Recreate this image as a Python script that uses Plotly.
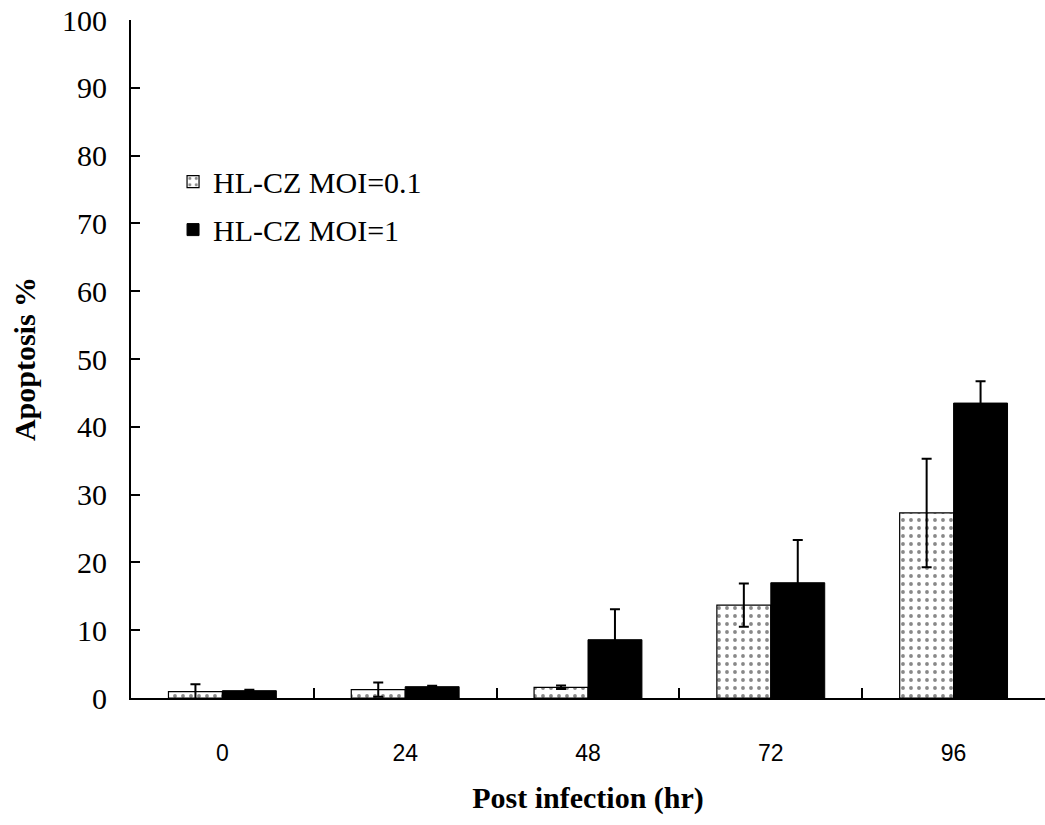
import plotly.graph_objects as go

categories = ["0", "24", "48", "72", "96"]
moi01_values = [0.93, 1.23, 1.58, 13.7, 27.3]
moi01_errors = [1.1, 1.05, 0.25, 3.2, 8.0]
moi1_values = [1.08, 1.67, 8.6, 17.0, 43.5]
moi1_errors = [0.15, 0.15, 4.5, 6.3, 3.2]
series_names = ["HL-CZ MOI=0.1", "HL-CZ MOI=1"]
y_ticks = [0, 10, 20, 30, 40, 50, 60, 70, 80, 90, 100]

serif = "Liberation Serif"

fig = go.Figure()
fig.add_trace(go.Bar(
    x=categories, y=moi01_values, name=series_names[0], legendgroup="a",
    marker=dict(color="white", line=dict(color="black", width=1.2),
                pattern=dict(shape=".", fgcolor="#111", bgcolor="white", size=8, solidity=0.18)),
    error_y=dict(type="data", array=moi01_errors, visible=True, color="black", thickness=2, width=5),
))
fig.add_trace(go.Bar(
    x=categories, y=moi1_values, name=series_names[1], legendgroup="b",
    marker=dict(color="black", line=dict(color="black", width=1)),
    error_y=dict(type="data", array=moi1_errors, visible=True, color="black", thickness=2, width=5),
))

fig.update_layout(
    width=1045, height=825,
    margin=dict(l=131, r=0, t=20, b=127),
    plot_bgcolor="white", paper_bgcolor="white",
    barmode="group", bargap=0.41, bargroupgap=0,
    font=dict(family=serif, color="black", size=30),
    legend=dict(x=0.046, y=0.8, xanchor="left", yanchor="top",
                font=dict(family=serif, size=30, color="black"),
                bgcolor="rgba(0,0,0,0)", tracegroupgap=6, traceorder="grouped"),
    showlegend=True,
)
fig.update_yaxes(
    range=[0, 100], tickvals=y_ticks, ticks="inside", ticklen=9, tickwidth=2,
    tickcolor="black", showline=True, linecolor="black", linewidth=2,
    showgrid=False, zeroline=False, ticklabelstandoff=16,
    tickfont=dict(family=serif, size=30, color="black"),
    title=dict(text="<b>Apoptosis %</b>", font=dict(family=serif, size=30, color="black"), standoff=18),
)
fig.update_xaxes(
    type="category", ticks="inside", tickson="boundaries", ticklen=10, tickwidth=2,
    tickcolor="black", showline=True, linecolor="black", linewidth=2,
    showgrid=False, ticklabelstandoff=33,
    tickfont=dict(family="Liberation Sans", size=23, color="black"),
    title=dict(text="<b>Post infection (hr)</b>", font=dict(family=serif, size=30, color="black"), standoff=22),
)

fig.write_html("out.html", config={"displayModeBar": False},
               post_script="document.body.style.margin='0';document.body.style.overflow='hidden';")
